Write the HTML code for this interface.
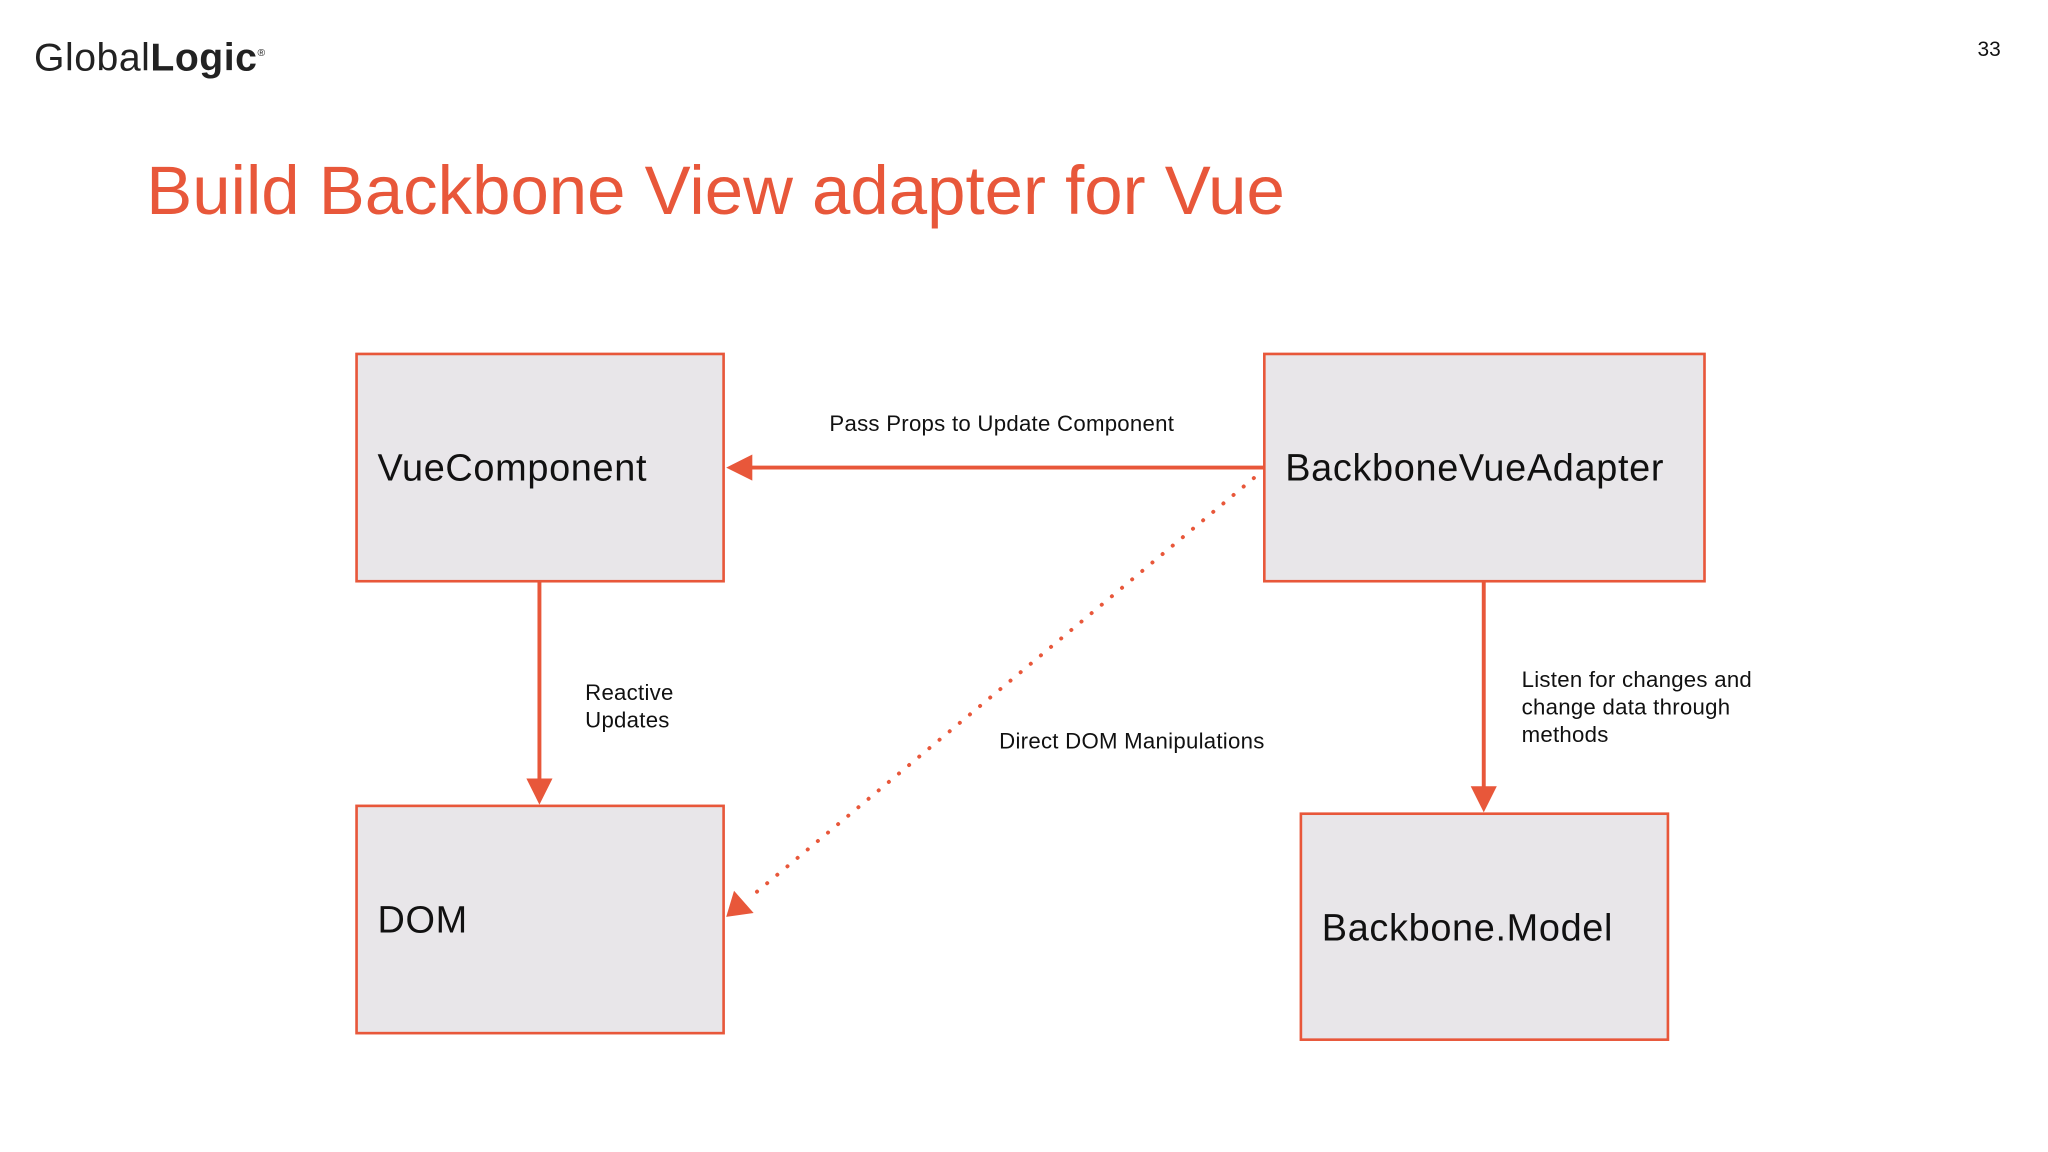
<!DOCTYPE html>
<html><head><meta charset="utf-8"><style>
html,body{margin:0;padding:0;background:#fff;}
#wrap{width:1568px;height:882px;transform:scale(1.30612);transform-origin:0 0;position:relative;font-family:"Liberation Sans",sans-serif;overflow:hidden}
.t{position:absolute;white-space:nowrap;color:#111}
.box{position:absolute;background:#e8e6e9;border:2px solid #e8573a;box-sizing:border-box}
.bl{font-size:29px;letter-spacing:0.5px}
.sm{font-size:17px;letter-spacing:0.2px}
</style></head><body><div id="wrap">
<div class="t" style="left:26px;top:28px;font-size:30px;letter-spacing:0.4px;color:#222">Global<b>Logic</b><sup style="font-size:8px">®</sup></div>
<div class="t" style="left:1514px;top:30px;font-size:16px">33</div>
<div class="t" style="left:112px;top:116px;font-size:52.8px;color:#e8573a">Build Backbone View adapter for Vue</div>
<div class="box" style="left:272px;top:270px;width:283px;height:176px"></div>
<div class="box" style="left:967px;top:270px;width:339px;height:176px"></div>
<div class="box" style="left:272px;top:616px;width:283px;height:176px"></div>
<div class="box" style="left:995px;top:622px;width:283px;height:175px"></div>
<div class="t bl" style="left:289px;top:343px">VueComponent</div>
<div class="t bl" style="left:984px;top:343px">BackboneVueAdapter</div>
<div class="t bl" style="left:289px;top:689px">DOM</div>
<div class="t bl" style="left:1012px;top:695px">Backbone.Model</div>
<svg width="1568" height="882" style="position:absolute;left:0;top:0">
<g stroke="#e8573a" stroke-width="3" fill="#e8573a">
<line x1="968" y1="358" x2="574" y2="358"/>
<polygon points="556,358 576,348 576,368" stroke="none"/>
<line x1="413" y1="446" x2="413" y2="600"/>
<polygon points="413,616 403,596 423,596" stroke="none"/>
<line x1="1136" y1="446" x2="1136" y2="604"/>
<polygon points="1136,622 1126,602 1146,602" stroke="none"/>
<line x1="960" y1="366" x2="572" y2="689" stroke-dasharray="0.1,10" stroke-linecap="round"/>
<polygon points="556,702 562,682 577,699" stroke="none"/>
</g></svg>
<div class="t sm" style="left:635px;top:315px">Pass Props to Update Component</div>
<div class="t sm" style="left:448px;top:520px;line-height:21px">Reactive<br>Updates</div>
<div class="t sm" style="left:765px;top:558px">Direct DOM Manipulations</div>
<div class="t sm" style="left:1165px;top:510px;line-height:21px">Listen for changes and<br>change data through<br>methods</div>
</div></body></html>
